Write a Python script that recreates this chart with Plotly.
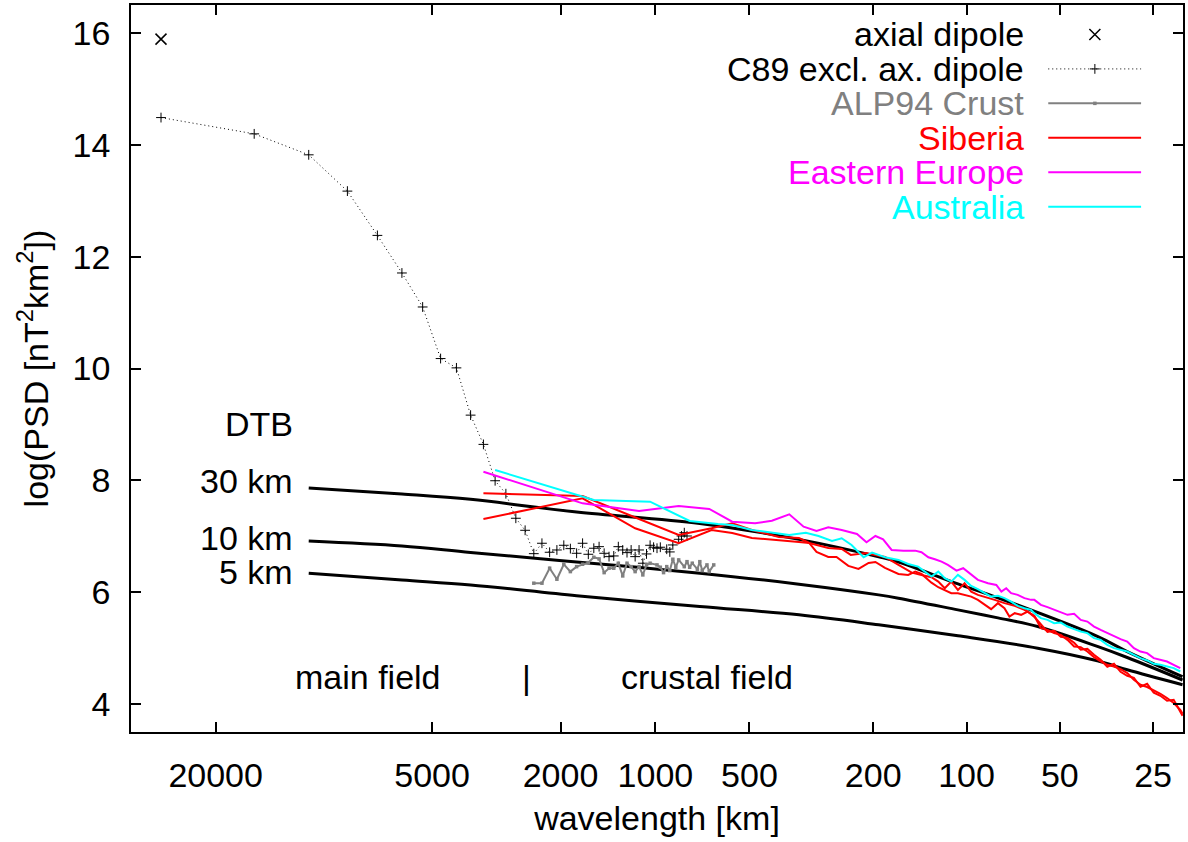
import math
import plotly.graph_objects as go

# ---------------- data (spherical harmonic degree n, log10 PSD) ----------------
# axial dipole
dip_n = [1]
dip_v = [15.89]

# C89 excluding axial dipole
c89_n = [1, 2, 3, 4, 5, 6, 7, 8, 9, 10, 11, 12, 13, 14, 15, 16, 17, 18, 19, 20,
         21, 22, 23, 24, 25, 26, 27, 28, 29, 30, 31, 32, 33, 34, 35, 36, 37, 38, 39, 40,
         41, 43, 44, 45, 47, 48, 49, 50]
c89_v = [14.487, 14.196, 13.821, 13.172, 12.380, 11.708, 11.100, 10.178, 10.011, 9.166,
         8.643, 7.993, 7.761, 7.322, 7.107, 6.689, 6.875, 6.714, 6.755, 6.839,
         6.779, 6.696, 6.875, 6.678, 6.786, 6.814, 6.696, 6.636, 6.648, 6.814,
         6.755, 6.707, 6.755, 6.636, 6.755, 6.518, 6.684, 6.839, 6.804, 6.786,
         6.804, 6.768, 6.720, 6.845, 6.946, 7.005, 7.064, 7.005]

# ALP94 crust
alp_n = [16, 17, 18, 19, 20, 21, 22, 23, 24, 25, 26, 27, 28, 29, 30, 31, 32, 33, 34, 35,
         36, 37, 38, 40, 41, 42, 43, 44, 45, 46, 47, 49, 50, 51, 52, 54, 55, 56, 58, 59, 61]
alp_v = [6.161, 6.161, 6.429, 6.232, 6.500, 6.368, 6.457, 6.500, 6.529, 6.625,
         6.595, 6.350, 6.429, 6.429, 6.518, 6.291, 6.518, 6.457, 6.368, 6.457,
         6.309, 6.488, 6.518, 6.488, 6.446, 6.350, 6.457, 6.386, 6.589, 6.446,
         6.577, 6.457, 6.546, 6.446, 6.518, 6.411, 6.546, 6.386, 6.488, 6.368, 6.488]

# Siberia (two spectra)
sib1_n = [11, 23, 35, 47, 60, 70, 81, 99, 115, 124, 143, 158, 169, 189, 203, 218, 241,
          266, 286, 308, 324, 340, 357, 375, 394, 414, 435, 457, 493, 530, 572, 615,
          662, 695, 730, 767, 806, 847, 890, 935, 982, 1032, 1084, 1139, 1197, 1257,
          1321, 1388, 1458, 1532, 1609, 1691, 1776, 1866, 1960, 1993]
sib1_v = [7.768, 7.720, 7.309, 7.023, 7.143, 7.232, 7.113, 6.988, 6.970, 6.880, 6.791,
          6.773, 6.666, 6.702, 6.666, 6.630, 6.488, 6.350, 6.309, 6.268, 6.189, 6.071,
          6.189, 6.041, 6.161, 6.011, 5.952, 5.921, 5.863, 5.804, 5.755, 5.684,
          5.580, 5.357, 5.327, 5.268, 5.237, 5.148, 5.029, 5.018, 4.939, 4.839, 4.761,
          4.702, 4.671, 4.625, 4.554, 4.434, 4.345, 4.304, 4.243, 4.184, 4.107, 4.018,
          3.898, 3.827]

sib2_n = [11, 23, 34, 47, 60, 70, 81, 99, 115, 124, 131, 143, 152, 166, 179, 193, 203,
          218, 241, 259, 273, 286, 308, 324, 340, 357, 375, 394, 414, 435, 457, 480,
          505, 530, 550, 572, 600, 630, 662, 695, 730, 767, 806, 847, 890, 935, 982,
          1032, 1084, 1139, 1197, 1257, 1321, 1388, 1458, 1532, 1609, 1691, 1776,
          1866, 1960, 1993]
sib2_v = [7.309, 7.679, 7.143, 6.875, 7.113, 7.059, 6.970, 6.934, 6.898, 6.880, 6.720,
          6.630, 6.630, 6.470, 6.416, 6.523, 6.541, 6.434, 6.327, 6.309, 6.368, 6.327,
          6.171, 6.089, 6.041, 5.982, 5.982, 5.952, 5.921, 5.863, 5.773, 5.696, 5.804,
          5.714, 5.564, 5.625, 5.595, 5.654, 5.559, 5.434, 5.291, 5.309, 5.202, 5.184,
          5.095, 4.970, 4.988, 4.880, 4.791, 4.666, 4.720, 4.577, 4.505, 4.470, 4.309,
          4.362, 4.202, 4.148, 4.059, 4.077, 3.845, 3.791]

# Eastern Europe
eeu_n = [11, 23, 35, 47, 59, 70, 83, 94, 107, 119, 131, 143, 158, 177, 190, 203, 215,
         229, 250, 273, 286, 301, 316, 332, 348, 371, 390, 410, 435, 469, 499, 518, 537,
         557, 585, 615, 646, 662, 695, 730, 767, 806, 847, 890, 935, 982, 1032, 1084,
         1139, 1197, 1257, 1321, 1388, 1458, 1532, 1609, 1691, 1776, 1866, 1960]
eeu_v = [8.154, 7.589, 7.452, 7.541, 7.488, 7.261, 7.232, 7.279, 7.393, 7.171, 7.095,
         7.161, 7.113, 7.041, 6.893, 7.005, 6.946, 6.755, 6.743, 6.743, 6.714, 6.625,
         6.589, 6.546, 6.488, 6.386, 6.429, 6.339, 6.220, 6.161, 6.130, 6.011, 6.071,
         5.982, 5.952, 5.893, 5.863, 5.863, 5.773, 5.732, 5.684, 5.636, 5.595, 5.613,
         5.505, 5.475, 5.386, 5.327, 5.268, 5.207, 5.161, 5.118, 5.000, 4.939, 4.911,
         4.821, 4.791, 4.761, 4.702, 4.643]

# Australia
aus_n = [12, 25, 38, 51, 63, 70, 81, 94, 107, 121, 133, 147, 158, 170, 186, 198, 218,
         241, 259, 279, 293, 308, 324, 340, 357, 375, 394, 414, 435, 457, 480, 505, 530,
         557, 585, 615, 646, 662, 695, 730, 767, 806, 847, 890, 935, 982, 1032, 1084,
         1139, 1197, 1257, 1321, 1388, 1458, 1532, 1609, 1691, 1776, 1866, 1960]
aus_v = [8.184, 7.648, 7.618, 7.273, 7.220, 7.202, 7.113, 7.064, 7.023, 7.064, 7.005,
         6.916, 6.964, 6.845, 6.625, 6.707, 6.625, 6.577, 6.505, 6.457, 6.368, 6.279,
         6.368, 6.250, 6.189, 6.309, 6.220, 6.113, 6.054, 5.982, 5.921, 5.934, 5.893,
         5.832, 5.755, 5.714, 5.684, 5.625, 5.536, 5.505, 5.446, 5.457, 5.386, 5.339,
         5.296, 5.268, 5.179, 5.148, 5.059, 5.000, 4.970, 4.939, 4.880, 4.821, 4.779,
         4.720, 4.702, 4.671, 4.643, 4.582]

# model spectra for depth to bottom (DTB)
dtb30_n = [3, 6, 10, 22, 55, 115, 208, 241, 375, 505, 1058, 1321, 1993]
dtb30_v = [7.862, 7.755, 7.660, 7.434, 7.230, 6.944, 6.633, 6.540, 6.148, 5.900, 5.210, 4.939, 4.490]
dtb10_n = [3, 6, 10, 22, 55, 115, 208, 241, 375, 505, 679, 1058, 1321, 1993]
dtb10_v = [6.916, 6.827, 6.710, 6.541, 6.339, 6.143, 5.952, 5.893, 5.684, 5.541, 5.386, 5.030, 4.832, 4.430]
dtb5_n = [3, 6, 10, 22, 55, 115, 208, 375, 679, 1058, 1321, 1993]
dtb5_v = [6.340, 6.218, 6.130, 5.938, 5.744, 5.595, 5.416, 5.220, 4.999, 4.773, 4.612, 4.345]

# axis ticks
wavelength_ticks = [20000, 5000, 2000, 1000, 500, 200, 100, 50, 25]
y_ticks = [4, 6, 8, 10, 12, 14, 16]
EARTH_CIRC = 40030.0  # km, lambda = 2*pi*a/(n+1/2)

RED, MAG, CYAN, GRAY = "#ff0000", "#ff00ff", "#00ffff", "#808080"
FONT = "Liberation Sans, Arial, Helvetica, sans-serif"

fig = go.Figure()

for n, v in ((dtb30_n, dtb30_v), (dtb10_n, dtb10_v), (dtb5_n, dtb5_v)):
    fig.add_trace(go.Scatter(x=n, y=v, mode="lines",
                             line=dict(color="black", width=3, shape="spline", smoothing=1.0),
                             hoverinfo="skip"))

fig.add_trace(go.Scatter(x=dip_n, y=dip_v, mode="markers", name="axial dipole",
                         marker=dict(symbol="x-thin", size=11, line=dict(width=1.5, color="black"), color="black")))
fig.add_trace(go.Scatter(x=c89_n, y=c89_v, mode="lines+markers", name="C89 excl. ax. dipole",
                         line=dict(color="black", width=1, dash="1px,3px"),
                         marker=dict(symbol="cross-thin", size=7, line=dict(width=1, color="black"), color="black")))
fig.add_trace(go.Scatter(x=alp_n, y=alp_v, mode="lines+markers", name="ALP94 Crust",
                         line=dict(color=GRAY, width=2), marker=dict(symbol="square", size=3.5, color=GRAY)))
fig.add_trace(go.Scatter(x=sib1_n, y=sib1_v, mode="lines", name="Siberia", line=dict(color=RED, width=2)))
fig.add_trace(go.Scatter(x=sib2_n, y=sib2_v, mode="lines", name="Siberia", line=dict(color=RED, width=2)))
fig.add_trace(go.Scatter(x=eeu_n, y=eeu_v, mode="lines", name="Eastern Europe", line=dict(color=MAG, width=2)))
fig.add_trace(go.Scatter(x=aus_n, y=aus_v, mode="lines", name="Australia", line=dict(color=CYAN, width=2)))

# ---------------- gnuplot-style key (text left, sample right) ----------------
L, R, T, B = 131, 1185, 4, 732
px = lambda x: (x - L) / (R - L)
py = lambda y: (B - y) / (B - T)
key = [("axial dipole", "black", None, None, "x-thin"),
       ("C89 excl. ax. dipole", "black", "black", "1px,3px", "cross-thin"),
       ("ALP94 Crust", GRAY, GRAY, "solid", "square"),
       ("Siberia", RED, RED, "solid", None),
       ("Eastern Europe", MAG, MAG, "solid", None),
       ("Australia", CYAN, CYAN, "solid", None)]
key_y0, key_dy = 33.5, 34.5
annotations = []
for i, (label, tcol, lcol, dash, sym) in enumerate(key):
    yy = py(key_y0 + i * key_dy)
    annotations.append(dict(text=label, x=px(1028), y=yy, xref="paper", yref="paper",
                            xanchor="right", yanchor="middle", showarrow=False,
                            font=dict(color=tcol, size=34)))
    if lcol is not None:
        fig.add_trace(go.Scatter(x=[px(1050), px(1143)], y=[yy, yy], xaxis="x2", yaxis="y2", mode="lines",
                                 line=dict(color=lcol, width=1 if dash != "solid" else 2, dash=dash),
                                 hoverinfo="skip"))
    if sym is not None:
        mk = dict(symbol=sym, color=tcol)
        if sym == "x-thin":
            mk.update(size=11, line=dict(width=1.5, color="black"))
        elif sym == "cross-thin":
            mk.update(size=7, line=dict(width=1, color="black"))
        else:
            mk.update(size=3.5)
        fig.add_trace(go.Scatter(x=[px(1096.7)], y=[yy], xaxis="x2", yaxis="y2", mode="markers",
                                 marker=mk, hoverinfo="skip"))

# text labels
for txt, x, y, anch in [("DTB", 295, 424, "right"), ("30 km", 295, 481, "right"),
                        ("10 km", 295, 537.5, "right"), ("5 km", 295, 571.5, "right"),
                        ("main field", 368, 677, "center"), ("|", 527, 677, "center"),
                        ("crustal field", 708, 677, "center")]:
    annotations.append(dict(text=txt, x=px(x), y=py(y), xref="paper", yref="paper", xanchor=anch,
                            yanchor="middle", showarrow=False, font=dict(size=34, color="black")))

axis_common = dict(ticks="inside", ticklen=10, tickwidth=1.5, tickcolor="black", mirror="allticks",
                   showline=True, linewidth=1.5, linecolor="black", showgrid=False, zeroline=False,
                   tickfont=dict(size=34, color="black"))

fig.update_layout(
    width=1188, height=842,
    margin=dict(l=L, r=1188 - R, t=T, b=842 - B),
    plot_bgcolor="white", paper_bgcolor="white", showlegend=False,
    font=dict(family=FONT, size=34, color="black"),
    xaxis=dict(type="log", range=[math.log10(0.8), math.log10(2000)],
               tickvals=[EARTH_CIRC / w - 0.5 for w in wavelength_ticks],
               ticktext=[str(w) for w in wavelength_ticks],
               ticklabelstandoff=12,
               title=dict(text="wavelength [km]", font=dict(size=34), standoff=14),
               **axis_common),
    yaxis=dict(range=[3.5, 16.5], tickvals=y_ticks, ticktext=[str(t) for t in y_ticks],
               ticklabelstandoff=12,
               title=dict(text="log(PSD [nT<sup>2</sup>km<sup>2</sup>])", font=dict(size=34), standoff=14),
               **axis_common),
    xaxis2=dict(overlaying="x", range=[0, 1], visible=False),
    yaxis2=dict(overlaying="y", range=[0, 1], visible=False),
    annotations=annotations,
)

fig.write_html("out.html")
